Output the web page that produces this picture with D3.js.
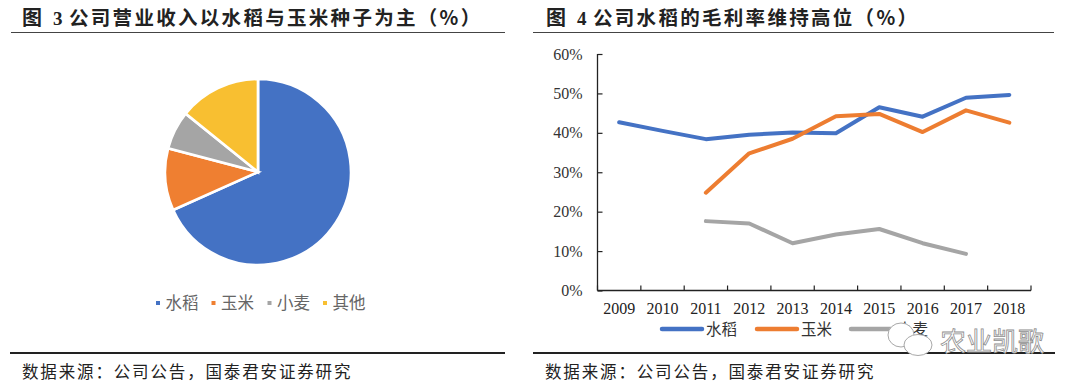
<!DOCTYPE html>
<html><head><meta charset="utf-8">
<script src="https://cdn.jsdelivr.net/npm/d3@7/dist/d3.min.js"></script>
<style>html,body{margin:0;padding:0;background:#fff}svg{display:block}</style>
</head><body><svg id="c" width="1080" height="389"></svg>
<script>
const pieCats=["水稻","玉米","小麦","其他"];
const pieVals=[68.3,10.8,6.7,14.2];
const pieColors=["#4472c4","#ef7f31","#a5a5a5","#f8bf31"];
const years=["2009","2010","2011","2012","2013","2014","2015","2016","2017","2018"];
const rice=[42.7,40.5,38.4,39.5,40.1,39.9,46.5,44.1,48.9,49.6];
const corn=[null,null,24.8,34.8,38.5,44.2,44.8,40.2,45.7,42.6];
const wheat=[null,null,17.6,17.0,12.0,14.2,15.6,12.0,9.3,null];
const yTicks=[0,10,20,30,40,50,60];
const lineSeries=[{name:"水稻",v:rice,c:"#4472c4"},{name:"玉米",v:corn,c:"#ed7d31"},{name:"小麦",v:wheat,c:"#a5a5a5"}];

const svg=d3.select("#c");
const cjk='"Noto Sans CJK SC","Noto Sans"';
const serif='"Liberation Serif",serif';
const txt=(x,y,s,o={})=>svg.append("text").attr("x",x).attr("y",y).text(s)
  .attr("font-family",o.f||cjk).attr("font-size",o.s||14).attr("font-weight",o.w||400)
  .attr("fill",o.c||"#222").attr("text-anchor",o.a||"start").attr("letter-spacing",o.ls||0);
const rule=(x1,x2,y,w,c)=>svg.append("line").attr("x1",x1).attr("x2",x2).attr("y1",y).attr("y2",y).attr("stroke",c).attr("stroke-width",w);

// headers and footers
txt(22,25,"图",{s:20,w:700});
txt(53,25,"3",{s:19,w:700,f:serif});
txt(69,25,"公司营业收入以水稻与玉米种子为主（%）",{s:19.5,w:700,ls:2.3});
txt(546,25,"图",{s:20,w:700});
txt(577,25,"4",{s:19,w:700,f:serif});
txt(593,25,"公司水稻的毛利率维持高位（%）",{s:19.5,w:700,ls:2.3});
rule(11,505,32.5,1.2,"#444");rule(533,1054,32.5,1.2,"#444");
rule(10,505,353,2,"#222");rule(533,1055,353,2,"#222");
txt(22,378,"数据来源：公司公告，国泰君安证券研究",{s:16.5,ls:1.85});
txt(545,378,"数据来源：公司公告，国泰君安证券研究",{s:16.5,ls:1.85});

// pie
const pie=d3.pie().sort(null)(pieVals);
const arc=d3.arc().innerRadius(0).outerRadius(93);
svg.append("g").attr("transform","translate(258,172)").selectAll("path").data(pie).join("path")
  .attr("d",arc).attr("fill",(d,i)=>pieColors[i]).attr("stroke","#fff").attr("stroke-width",2.7);
const pieLegX=[158,213.5,269.5,325];
pieCats.forEach((n,i)=>{
  svg.append("rect").attr("x",pieLegX[i]-2).attr("y",301).attr("width",4).attr("height",4).attr("fill",pieColors[i]);
  txt(pieLegX[i]+7.5,309,n,{s:16.5,c:"#666"});
});

// line chart
const x=d3.scaleBand().domain(years).range([597.5,1031]);
const y=d3.scaleLinear().domain([0,60]).range([290.5,54]);
const gy=svg.append("g").attr("transform","translate(597.5,0)").call(d3.axisLeft(y).tickValues(yTicks).tickSize(0).tickPadding(15).tickFormat(d=>d+"%"));
gy.select(".domain").attr("d",`M0,${y(0)}V${y(60)}`).attr("stroke","#222").attr("stroke-width",1.3);
gy.selectAll(".tick line").attr("x1",0).attr("x2",5).attr("stroke","#222").attr("stroke-width",1.2);
gy.selectAll("text").attr("font-family",serif).attr("font-size",16).attr("fill","#333");
const gx=svg.append("g").attr("transform","translate(0,290.5)").call(d3.axisBottom(x).tickSize(0).tickPadding(12));
gx.select(".domain").attr("d","M597.5,0H1031").attr("stroke","#222").attr("stroke-width",1.3);
gx.selectAll("text").attr("font-family",serif).attr("font-size",16).attr("fill","#222");
gx.selectAll(".tick").select("line").remove();
gx.selectAll(".edge").data([...years.map(d=>x(d)),x.range()[1]]).join("line").attr("class","edge")
  .attr("x1",d=>d).attr("x2",d=>d).attr("y1",-5).attr("y2",0).attr("stroke","#222").attr("stroke-width",1.2);
const line=d3.line().defined(d=>d.v!==null).x(d=>x(d.y)+x.bandwidth()/2).y(d=>y(d.v));
lineSeries.forEach(s=>{
  svg.append("path").datum(s.v.map((v,i)=>({y:years[i],v}))).attr("d",line).attr("fill","none")
    .attr("stroke",s.c).attr("stroke-width",4).attr("stroke-linecap","round").attr("stroke-linejoin","round");
});
const legX=[662,757,851], legTx=[706,801,897];
lineSeries.forEach((s,i)=>{
  svg.append("line").attr("x1",legX[i]).attr("x2",legX[i]+40).attr("y1",329).attr("y2",329)
    .attr("stroke",s.c).attr("stroke-width",4.5).attr("stroke-linecap","round");
  txt(legTx[i],335,s.name,{s:15.5,c:"#333"});
});

// watermark
const w=svg.append("g").attr("fill","#fff").attr("stroke","#a8a8a8").attr("stroke-width",1);
w.append("ellipse").attr("cx",901).attr("cy",335).attr("rx",13).attr("ry",12);
w.append("ellipse").attr("cx",918).attr("cy",345).attr("rx",14).attr("ry",10.5);
txt(940,351,"农业凯歌",{s:26,c:"#fff"}).attr("stroke","#8e8e8e").attr("stroke-width",.8);
</script></body></html>
